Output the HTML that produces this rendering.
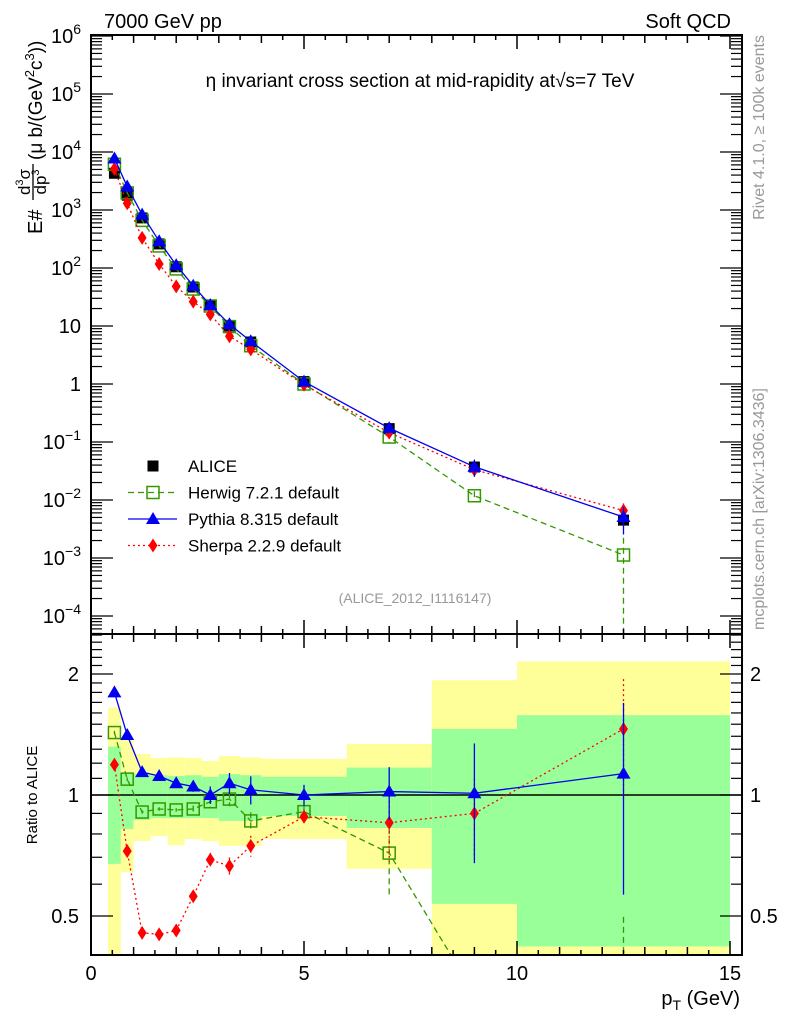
<!DOCTYPE html>
<html><head><meta charset="utf-8">
<style>
html,body{margin:0;background:#fff;width:786px;height:1024px;overflow:hidden;}
svg{display:block;font-family:"Liberation Sans",sans-serif;}
</style></head>
<body>
<svg id="chart" width="786" height="1024" xmlns="http://www.w3.org/2000/svg">
<text x="104" y="28" font-size="20">7000 GeV pp</text>
<text x="731" y="28" font-size="20" text-anchor="end">Soft QCD</text>
<text x="420" y="87" font-size="19" text-anchor="middle">η invariant cross section at mid-rapidity at√s=7 TeV</text>
<text x="415" y="603" font-size="14" fill="#999" text-anchor="middle">(ALICE_2012_I1116147)</text>
<text transform="translate(764,35) rotate(-90)" font-size="16" fill="#999" text-anchor="end">Rivet 4.1.0, ≥ 100k events</text>
<text transform="translate(764,630) rotate(-90)" font-size="16" fill="#999">mcplots.cern.ch [arXiv:1306.3436]</text>
<g transform="rotate(-90)">
<text x="-234" y="42" font-size="20">E#</text>
<text x="-182" y="30" font-size="17" text-anchor="middle">d<tspan font-size="11" dy="-7">3</tspan><tspan dy="7">σ</tspan></text>
<line x1="-200" x2="-164" y1="33" y2="33" stroke="#000" stroke-width="1.3"/>
<text x="-182" y="46" font-size="17" text-anchor="middle">dp<tspan font-size="11" dy="-7">3</tspan></text>
<text x="-160" y="42" font-size="19">(μ b/(GeV<tspan font-size="13" dy="-8">2</tspan><tspan dy="8">c</tspan><tspan font-size="13" dy="-8">3</tspan><tspan dy="8">))</tspan></text>
</g>
<text transform="translate(37,795) rotate(-90)" font-size="15" text-anchor="middle">Ratio to ALICE</text>
<text x="740" y="1005" font-size="20" text-anchor="end">p<tspan font-size="14" dy="5">T</tspan><tspan dy="-5"> (GeV)</tspan></text>
<g id="bands"></g><g id="marks"></g><g id="axes"></g>
</svg>
<script>
const pt=[0.55,0.85,1.2,1.6,2.0,2.4,2.8,3.25,3.75,5.0,7.0,9.0,12.5];
const binLo=[0.4,0.7,1.0,1.4,1.8,2.2,2.6,3.0,3.5,4.0,6.0,8.0,10.0];
const binHi=[0.7,1.0,1.4,1.8,2.2,2.6,3.0,3.5,4.0,6.0,8.0,10.0,15.0];
const alice=[4300,1800,730,260,105,47,23,10,5.3,1.1,0.17,0.037,0.0045];
const yelHi=[1.65,1.37,1.265,1.236,1.24,1.236,1.215,1.25,1.24,1.23,1.34,1.93,2.15];
const yelLo=[0.3,0.643,0.768,0.79,0.75,0.777,0.768,0.747,0.747,0.777,0.655,0.3,0.3];
const grnHi=[1.32,1.13,1.13,1.12,1.115,1.12,1.11,1.127,1.12,1.11,1.17,1.46,1.58];
const grnLo=[0.674,0.823,0.867,0.876,0.876,0.876,0.876,0.862,0.862,0.887,0.828,0.536,0.42];
const herwig=[1.43,1.095,0.907,0.923,0.918,0.923,0.962,0.977,0.862,0.909,0.717,0.32,0.25];
const herwigErr=[0.01,0.01,0.01,0.01,0.01,0.02,0.03,0.04,0.05,0.03,0.22,0.2,0.99];
const pythia=[1.80,1.41,1.14,1.115,1.07,1.05,1.0,1.07,1.03,1.0,1.02,1.01,1.13];
const pythiaErr=[0.01,0.01,0.01,0.01,0.02,0.03,0.05,0.06,0.08,0.06,0.15,0.33,0.5];
const sherpa=[1.19,0.725,0.454,0.45,0.46,0.56,0.69,0.666,0.747,0.883,0.853,0.9,1.46];
const sherpaErr=[0.01,0.01,0.01,0.02,0.02,0.03,0.04,0.05,0.06,0.04,0.2,0.22,0.33];
const mainTicks=["10⁶","10⁵","10⁴","10³","10²","10","1","10⁻¹","10⁻²","10⁻³","10⁻⁴"];
const mainTickExp=[6,5,4,3,2,1,0,-1,-2,-3,-4];
const ratioTicks=[2,1,0.5];
const xTicks=[0,5,10,15];

const L=91,R=742,T=35,MB=634,RB=955;
const X=v=>L+v*42.6;
const Ym=v=>384-58*Math.log10(v);
const Yr=v=>795-121*Math.log2(v);
const NS="http://www.w3.org/2000/svg";
function mk(tag,attrs,parent){const e=document.createElementNS(NS,tag);for(const k in attrs)e.setAttribute(k,attrs[k]);parent.appendChild(e);return e;}
const bands=document.getElementById('bands'),marks=document.getElementById('marks'),axes=document.getElementById('axes');
const cl=(y,a,b)=>Math.max(a,Math.min(b,y));
for(let i=0;i<pt.length;i++){
 const x0=X(binLo[i]),x1=Math.min(X(binHi[i]),R);
 const y=mk('rect',{x:x0,y:cl(Yr(yelHi[i]),MB,RB),width:x1-x0,height:cl(Yr(yelLo[i]),MB,RB)-cl(Yr(yelHi[i]),MB,RB),fill:'#ffff99'},bands);
 
 
 const g=mk('rect',{x:x0,y:cl(Yr(grnHi[i]),MB,RB),width:x1-x0,height:cl(Yr(grnLo[i]),MB,RB)-cl(Yr(grnHi[i]),MB,RB),fill:'#99ff99'},bands);
 
 
}
mk('line',{x1:L,x2:R,y1:795,y2:795,stroke:'#000','stroke-width':1.5},bands);
const defs=mk('defs',{},document.getElementById('chart'));
const c1=mk('clipPath',{id:'cm'},defs);mk('rect',{x:L,y:T,width:R-L,height:MB-T},c1);
const c2=mk('clipPath',{id:'cr'},defs);mk('rect',{x:L,y:MB,width:R-L,height:RB-MB},c2);
const series=[
 {r:herwig,e:herwigErr,col:'#339900',dash:'6,4',m:'sq',name:'herwig'},
 {r:sherpa,e:sherpaErr,col:'#ff0000',dash:'2,3',m:'di',name:'sherpa'},
 {r:pythia,e:pythiaErr,col:'#0000ee',dash:'',m:'tri',name:'pythia'}];
function marker(m,x,y,col,p,nm){
 let e;
 if(m==='sq')e=mk('rect',{x:x-6,y:y-6,width:12,height:12,fill:'none',stroke:col,'stroke-width':1.5},p);
 else if(m==='tri')e=mk('polygon',{points:`${x},${y-7} ${x-7},${y+5} ${x+7},${y+5}`,fill:col},p);
 else if(m==='di')e=mk('polygon',{points:`${x},${y-7} ${x-4.5},${y} ${x},${y+7} ${x+4.5},${y}`,fill:col},p);
 else e=mk('rect',{x:x-5.5,y:y-5.5,width:11,height:11,fill:'#000'},p);
 
 
}
const gm=mk('g',{'clip-path':'url(#cm)'},marks);
for(let i=0;i<pt.length;i++)marker('bk',X(pt[i]),Ym(alice[i]),'#000',gm,'alice-point');
const gr=mk('g',{'clip-path':'url(#cr)'},marks);
series.forEach(s=>{
 for(const [g,Y,base,lim] of [[gm,Ym,alice,MB],[gr,Yr,null,RB]]){
  const val=i=>base?base[i]*s.r[i]:s.r[i];
  let d='';for(let i=0;i<pt.length;i++)d+=(i?'L':'M')+X(pt[i])+','+Y(val(i));
  const ln=mk('path',{d:d,fill:'none',stroke:s.col,'stroke-width':1.3,'stroke-dasharray':s.dash},g);
  
  
  for(let i=0;i<pt.length;i++){
   const v=val(i),y1=Y(v*(1+s.e[i])),y2=Y(Math.max(v*(1-s.e[i]),1e-9));
   mk('line',{x1:X(pt[i]),x2:X(pt[i]),y1:Math.min(y1,lim),y2:Math.min(y2,lim),stroke:s.col,'stroke-width':1.3,'stroke-dasharray':s.dash},g);
   marker(s.m,X(pt[i]),Y(v),s.col,g,s.name+'-point');
  }
 }
});
for(const [t,b] of [[T,MB],[MB,RB]])mk('rect',{x:L,y:t,width:R-L,height:b-t,fill:'none',stroke:'#000','stroke-width':2},axes);
for(let v=0;v<=15.01;v+=0.5){
 const len=Math.abs(v%5)<0.01?14:(Math.abs(v%1)<0.01?8:5);
 mk('line',{x1:X(v),x2:X(v),y1:RB,y2:RB-len,stroke:'#000','stroke-width':1.5},axes);
 mk('line',{x1:X(v),x2:X(v),y1:MB,y2:MB-len,stroke:'#000','stroke-width':1.5},axes);
 mk('line',{x1:X(v),x2:X(v),y1:T,y2:T+len,stroke:'#000','stroke-width':1.5},axes);
 mk('line',{x1:X(v),x2:X(v),y1:MB,y2:MB+len,stroke:'#000','stroke-width':1.5},axes);
}
xTicks.forEach(v=>{const t=mk('text',{x:X(v),y:980,'font-size':20,'text-anchor':'middle'},axes);t.textContent=v;
 
 });
for(let e=-5;e<=6;e++)for(let k=1;k<10;k++){
 const v=k*Math.pow(10,e),y=Ym(v);if(y<T||y>MB)continue;const len=k===1?22:11;
 mk('line',{x1:L,x2:L+len,y1:y,y2:y,stroke:'#000','stroke-width':1.2},axes);
 mk('line',{x1:R,x2:R-len,y1:y,y2:y,stroke:'#000','stroke-width':1.2},axes);
}
mainTicks.forEach((s,i)=>{const y=Ym(Math.pow(10,mainTickExp[i]));
 const t=mk('text',{x:81,y:y+7,'font-size':20,'text-anchor':'end'},axes);
 const m=s.match(/^(10)(.*)$/);
 if(m&&m[2]){t.textContent='10';const ts=mk('tspan',{dy:-9,'font-size':14},t);ts.textContent=m[2].replace('⁻','−').replace(/[⁰¹²³⁴⁵⁶]/g,c=>'⁰¹²³⁴⁵⁶'.indexOf(c));}
 else t.textContent=s;
 
 });
for(let v=0.4;v<=2.55;v+=0.1){const y=Yr(v);if(y<MB||y>RB)continue;const maj=[0.5,1,2].some(a=>Math.abs(a-v)<0.01);const len=maj?22:11;
 mk('line',{x1:L,x2:L+len,y1:y,y2:y,stroke:'#000','stroke-width':1.2},axes);
 mk('line',{x1:R,x2:R-len,y1:y,y2:y,stroke:'#000','stroke-width':1.2},axes);}
ratioTicks.forEach(v=>{const y=Yr(v)+7;
 const a=mk('text',{x:79,y:y,'font-size':20,'text-anchor':'end'},axes);a.textContent=v;
 
 
 const b=mk('text',{x:750,y:y,'font-size':20},axes);b.textContent=v;
 
 });
const leg=[['ALICE','bk','#000',''],['Herwig 7.2.1 default','sq','#339900','6,4'],['Pythia 8.315 default','tri','#0000ee',''],['Sherpa 2.2.9 default','di','#ff0000','2,3']];
leg.forEach((l,i)=>{const y=466+i*26.5;
 if(i>0){const ll=mk('line',{x1:128,x2:177,y1:y,y2:y,stroke:l[2],'stroke-width':1.3,'stroke-dasharray':l[3]},axes);
 
 }
 marker(l[1],153,y,l[2],axes,'legend-marker');
 const t=mk('text',{x:188,y:y+6,'font-size':17},axes);t.textContent=l[0];
 
 });
</script>
</body></html>
